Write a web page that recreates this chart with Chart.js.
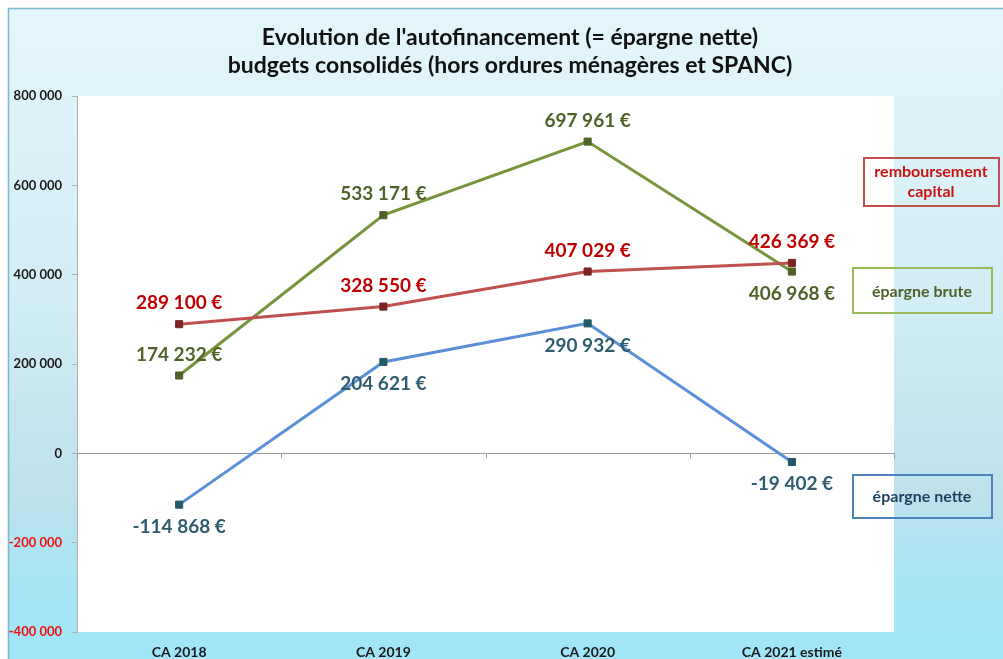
<!DOCTYPE html>
<html lang="fr">
<head>
<meta charset="UTF-8">
<title>Evolution de l'autofinancement</title>
<style>
  html, body { margin: 0; padding: 0; background: #fff; }
  #wrap { width: 1003px; height: 659px; }
</style>
</head>
<body>
<div id="wrap"><canvas id="myChart" width="1003" height="659"></canvas></div>
<script src="https://cdn.jsdelivr.net/npm/chart.js"></script>
<script>
const categories = ["CA 2018", "CA 2019", "CA 2020", "CA 2021 estimé"];
const remboursement = [289100, 328550, 407029, 426369];
const epargneBrute = [174232, 533171, 697961, 406968];
const epargneNette = [-114868, 204621, 290932, -19402];
const yTicks = [-400000, -200000, 0, 200000, 400000, 600000, 800000];
// where each data label sits relative to its point
const posRemb = ["up", "up", "up", "up"];
const posBrute = ["up", "up", "up", "down"];
const posNette = ["down", "down", "down", "down"];

const FONT = "Lato, 'Open Sans', sans-serif";

function fmt(v) {
  let s = Math.abs(v).toString().replace(/\B(?=(\d{3})+(?!\d))/g, " ");
  return (v < 0 ? "-" : "") + s;
}

const decor = {
  id: "decor",
  beforeDraw(chart) {
    const ctx = chart.ctx, a = chart.chartArea;
    ctx.save();
    let g = ctx.createLinearGradient(0, 0, 0, chart.height);
    g.addColorStop(0, "#e4f6fb");
    g.addColorStop(0.45, "#d2edf5");
    g.addColorStop(0.75, "#bde2ec");
    g.addColorStop(0.9, "#a6e4f5");
    g.addColorStop(1, "#a0e6f8");
    ctx.fillStyle = g;
    ctx.fillRect(0, 0, chart.width, chart.height);
    ctx.fillStyle = "#fff";
    ctx.fillRect(0, 0, chart.width, 8);
    ctx.fillRect(0, 0, 8, chart.height);
    ctx.strokeStyle = "#7db9cf";
    ctx.lineWidth = 1.5;
    ctx.strokeRect(8.5, 8.5, chart.width + 10, chart.height + 10);
    ctx.fillStyle = "#ffffff";
    ctx.fillRect(a.left, a.top, a.right - a.left, a.bottom - a.top);
    // title
    ctx.fillStyle = "#111";
    ctx.font = "bold 23px " + FONT;
    ctx.textAlign = "center";
    ctx.textBaseline = "middle";
    ctx.fillText("Evolution de l'autofinancement (= épargne nette)", 510, 38);
    ctx.fillText("budgets consolidés (hors ordures ménagères et SPANC)", 510, 66);
    ctx.restore();
  },
  beforeDatasetsDraw(chart) {
    const ctx = chart.ctx, a = chart.chartArea;
    const y0 = chart.scales.y.getPixelForValue(0);
    ctx.save();
    // zero line with boundary ticks
    ctx.strokeStyle = "#9a9a9a";
    ctx.lineWidth = 1;
    ctx.beginPath();
    ctx.moveTo(a.left, Math.round(y0) + 0.5);
    ctx.lineTo(a.right, Math.round(y0) + 0.5);
    const n = categories.length;
    for (let i = 0; i <= n; i++) {
      const x = Math.round(a.left + i * (a.right - a.left) / n) + 0.5;
      ctx.moveTo(x, y0);
      ctx.lineTo(x, y0 + 5);
    }
    ctx.stroke();
    ctx.restore();
  },
  afterDatasetsDraw(chart) {
    const ctx = chart.ctx;
    ctx.save();
    // data labels
    ctx.font = "bold 19px " + FONT;
    ctx.textAlign = "center";
    ctx.textBaseline = "middle";
    const sets = [
      { idx: 0, pos: posRemb, color: "#c00000" },
      { idx: 1, pos: posBrute, color: "#4f6228" },
      { idx: 2, pos: posNette, color: "#2f5d6e" }
    ];
    sets.forEach(s => {
      const meta = chart.getDatasetMeta(s.idx);
      const data = chart.data.datasets[s.idx].data;
      ctx.fillStyle = s.color;
      meta.data.forEach((pt, i) => {
        const dy = s.pos[i] === "up" ? -21 : 22;
        ctx.fillText(fmt(data[i]) + " €", pt.x, pt.y + dy);
      });
    });

    // legend boxes
    ctx.lineWidth = 2;
    ctx.font = "bold 16px " + FONT;
    ctx.strokeStyle = "#c0504d";
    ctx.strokeRect(864, 158, 135, 48);
    ctx.fillStyle = "#cc1111";
    ctx.fillText("remboursement", 931, 172);
    ctx.fillText("capital", 931, 192);
    ctx.strokeStyle = "#9bbb59";
    ctx.strokeRect(853, 268, 139, 45);
    ctx.fillStyle = "#4f6228";
    ctx.fillText("épargne brute", 922, 292);
    ctx.strokeStyle = "#4f81bd";
    ctx.strokeRect(853, 475, 139, 43);
    ctx.fillStyle = "#1f3f5f";
    ctx.fillText("épargne nette", 922, 497);
    ctx.restore();
  }
};

const ctx = document.getElementById("myChart").getContext("2d");
new Chart(ctx, {
  type: "line",
  data: {
    labels: categories,
    datasets: [
      {
        label: "remboursement capital",
        data: remboursement,
        borderColor: "#c0504d",
        backgroundColor: "#7a2323",
        pointBackgroundColor: "#7a2323",
        pointBorderColor: "#7a2323"
      },
      {
        label: "épargne brute",
        data: epargneBrute,
        borderColor: "#77933c",
        backgroundColor: "#4f6228",
        pointBackgroundColor: "#4f6228",
        pointBorderColor: "#4f6228"
      },
      {
        label: "épargne nette",
        data: epargneNette,
        borderColor: "#5b8fd6",
        backgroundColor: "#215968",
        pointBackgroundColor: "#215968",
        pointBorderColor: "#215968"
      }
    ]
  },
  options: {
    responsive: false,
    animation: false,
    layout: { padding: { top: 96, right: 109, left: 0, bottom: 0 } },
    elements: {
      line: { borderWidth: 3, tension: 0 },
      point: { pointStyle: "rect", radius: 5, borderWidth: 1 }
    },
    plugins: {
      legend: { display: false },
      title: { display: false },
      tooltip: { enabled: false }
    },
    scales: {
      x: {
        offset: true,
        grid: { display: false },
        border: { display: false },
        ticks: {
          color: "#1a1a1a",
          font: { family: FONT, size: 14, weight: "bold" },
          padding: 4,
          maxRotation: 0
        },
        afterFit(scale) { scale.height = 27; }
      },
      y: {
        min: -400000,
        max: 800000,
        afterBuildTicks(scale) { scale.ticks = yTicks.map(v => ({ value: v })); },
        grid: { drawOnChartArea: false, tickLength: 5, color: "#b0b0b0" },
        border: { color: "#b0b0b0" },
        ticks: {
          padding: 10,
          font: { family: FONT, size: 13, weight: "bold" },
          color: c => (c.tick && c.tick.value < 0 ? "#ee1111" : "#1a1a1a"),
          callback: v => fmt(v)
        },
        afterFit(scale) { scale.width = 77; }
      }
    }
  },
  plugins: [decor]
});
</script>
</body>
</html>
